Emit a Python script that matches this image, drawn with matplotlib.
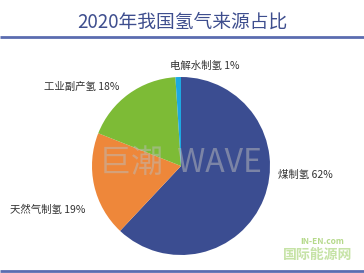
import matplotlib.pyplot as plt

plt.rcParams['font.family'] = ['Noto Sans CJK SC', 'DejaVu Sans']

# data
sources = ['煤制氢', '天然气制氢', '工业副产氢', '电解水制氢']
shares = [62, 19, 18, 1]
colors = ['#3B4D91', '#EE873A', '#7DBB36', '#1DA9E1']

# label positions (pixel coords, origin bottom-left)
label_pos = [(278, 98), (10, 63), (44, 186), (170, 207)]

W, H = 364, 273
fig = plt.figure(figsize=(W / 100, H / 100), dpi=100)
ax = fig.add_axes([0, 0, 1, 1])

ax.pie(shares, colors=colors, startangle=90, counterclock=False,
       center=(181, 107), radius=89, frame=True,
       wedgeprops=dict(linewidth=0))
ax.set_xlim(0, W)
ax.set_ylim(0, H)
ax.set_aspect('equal')
ax.axis('off')

for name, val, (x, y) in zip(sources, shares, label_pos):
    ax.text(x, y, f'{name} {val}%', fontsize=7.5, color='#333333',
            ha='left', va='center')

# title and rules
ax.text(W / 2, 251, '2020年我国氢气来源占比', fontsize=13.5, color='#3E4E8E',
        ha='center', va='center')
ax.plot([0, W], [236, 236], color='#5B6CB0', lw=2, solid_capstyle='butt')
ax.plot([0, W], [2, 2], color='#5B6CB0', lw=2, solid_capstyle='butt')

# watermarks
ax.text(180, 110, '巨潮  WAVE', fontsize=23, color='#BBBBBB', alpha=0.5,
        ha='center', va='center')
ax.text(300, 31, 'IN-EN.com', fontsize=6, color='#B5D98A', fontweight='bold',
        ha='left', va='center', style='italic')
ax.text(318, 18, '国际能源网', fontsize=10, color='#C6E3A6', fontweight='bold',
        ha='center', va='center')

fig.savefig('out.png', dpi=100)
